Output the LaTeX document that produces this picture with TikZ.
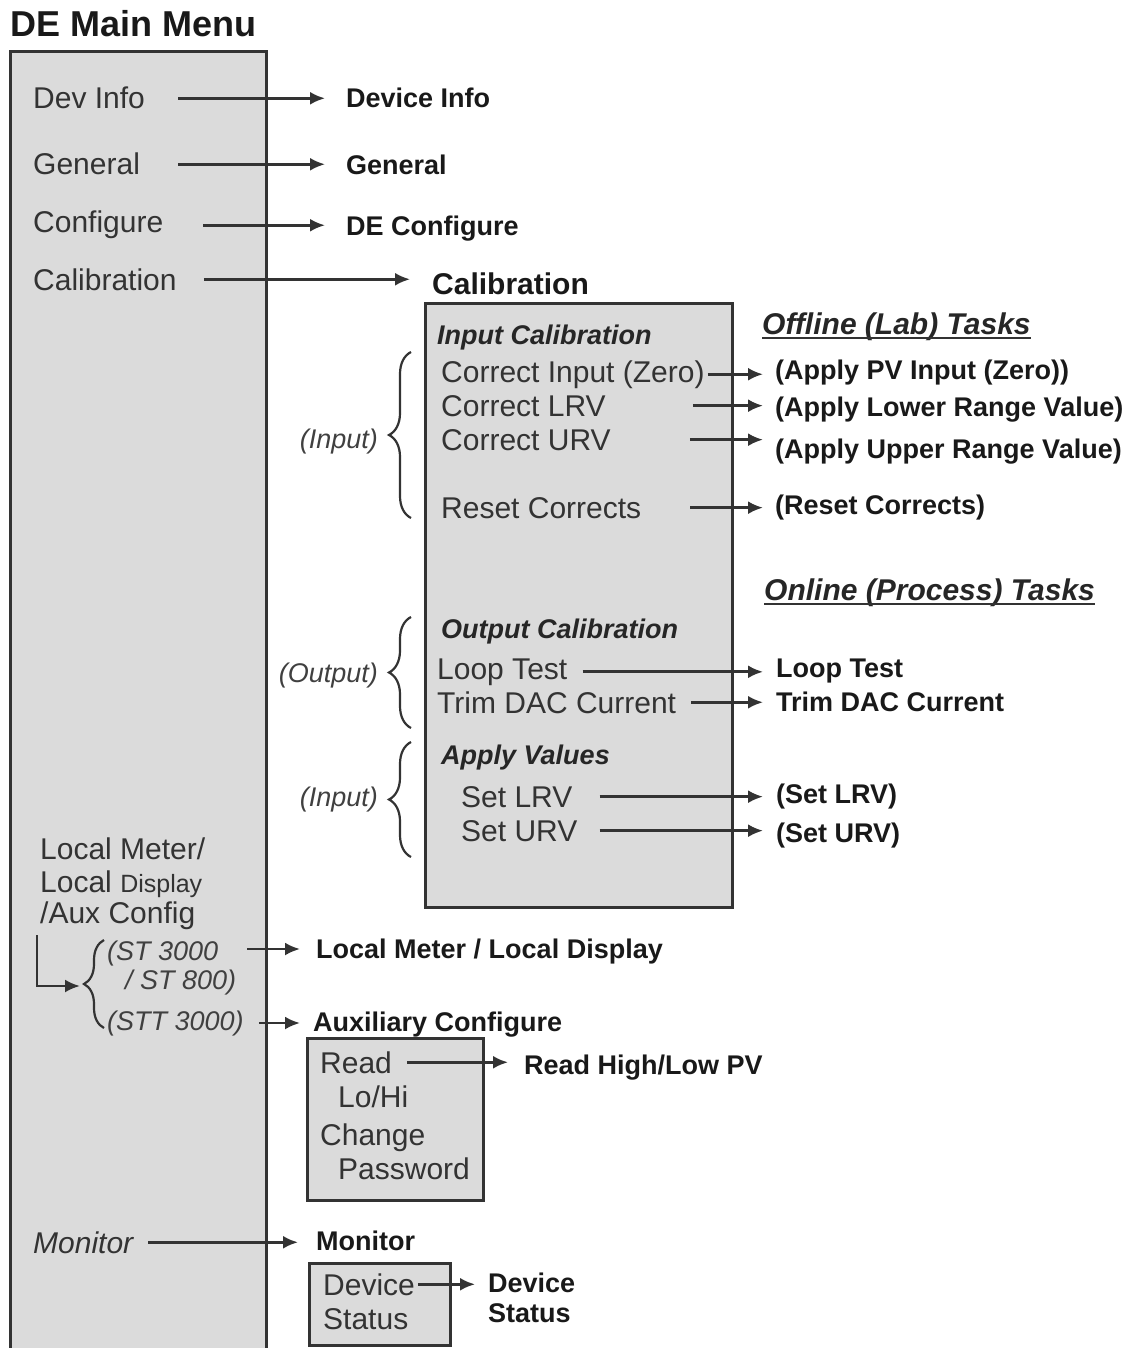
\documentclass[tikz,border=0pt]{standalone}
\usepackage{fontspec}
\setmainfont{Liberation Sans}
\usetikzlibrary{arrows.meta,decorations.pathreplacing}

\tikzset{
  menu/.style={inner sep=0pt, anchor=base west, text=black!80, font=\fontsize{30}{34}\selectfont},
  dest/.style={inner sep=0pt, anchor=base west, text=black!90, font=\bfseries\fontsize{27}{30}\selectfont},
  grp/.style={inner sep=0pt, anchor=base west, text=black!85, font=\bfseries\itshape\fontsize{27}{30}\selectfont},
  tasks/.style={inner sep=0pt, anchor=base west, text=black!85, font=\bfseries\itshape\fontsize{30}{34}\selectfont},
  hint/.style={inner sep=0pt, anchor=base east, text=black!75, font=\itshape\fontsize{27}{30}\selectfont},
  box/.style={draw=black!80, line width=3pt, fill=black!14},
  arr/.style={-{Latex[length=15pt,width=13pt]}, line width=2.6pt, draw=black!80},
  brc/.style={decorate, decoration={brace, amplitude=22pt}, line width=2.2pt, draw=black!80},
}

\begin{document}
\begin{tikzpicture}[x=1pt,y=-1pt]
 \useasboundingbox (0,0) rectangle (1134,1348);
 % main menu column
 \fill[black!14] (10,52) rectangle (266,1348);
 \draw[black!80,line width=3pt] (10,1348) -- (10,52) -- (266,52) -- (266,1348);
 \node[inner sep=0pt,anchor=base west,text=black!90,font=\bfseries\fontsize{36}{40}\selectfont] (title) at (10,37) {DE Main Menu};
 \node[menu] (devinfo) at (33,109) {Dev Info};
 \node[menu] (general) at (33,175) {General};
 \node[menu] (config) at (33,233) {Configure};
 \node[menu] (calib) at (33,290) {Calibration};
 \node[menu] (lmeter) at (40,859) {Local Meter/};
 \node[menu] (ldisp) at (40,892) {Local {\fontsize{25}{30}\selectfont Display}};
 \node[menu] (auxcfg) at (40,923) {/Aux Config};
 \node[menu,font=\itshape\fontsize{30}{34}\selectfont] (monitor) at (33,1253) {Monitor};
 % first level targets
 \node[dest] (devinfoR) at (346,108) {Device Info};
 \node[dest] (generalR) at (346,175) {General};
 \node[dest] (configR) at (346,236) {DE Configure};
 \node[dest,font=\bfseries\fontsize{30}{34}\selectfont] (calibR) at (432,294) {Calibration};
 \draw[arr,shorten <=33pt,shorten >=21pt] (devinfo.east) -- (devinfo.east -| devinfoR.west);
 \draw[arr,shorten <=38pt,shorten >=21pt] (general.east) -- (general.east -| generalR.west);
 \draw[arr,shorten <=40pt,shorten >=21pt] (config.east) -- (config.east -| configR.west);
 \draw[arr,shorten <=27pt,shorten >=22pt] (calib.east) -- (calib.east -| calibR.west);
 % calibration box
 \draw[box] (425,303) rectangle (732,907);
 \node[grp] (incal) at (437,344) {Input Calibration};
 \node[menu] (czero) at (441,382) {Correct Input (Zero)};
 \node[menu] (clrv) at (441,416) {Correct LRV};
 \node[menu] (curv) at (441,450) {Correct URV};
 \node[menu] (creset) at (441,518) {Reset Corrects};
 \node[grp] (outcal) at (441,638) {Output Calibration};
 \node[menu] (loop) at (437,679) {Loop Test};
 \node[menu] (trim) at (437,713) {Trim DAC Current};
 \node[grp] (apply) at (441,764) {Apply Values};
 \node[menu] (setlrv) at (461,807) {Set LRV};
 \node[menu] (seturv) at (461,841) {Set URV};
 % braces
 \draw[brc] (411,518) -- (411,352);
 \draw[brc] (411,728) -- (411,617);
 \draw[brc] (411,857) -- (411,742);
 \node[hint] (tin1) at (378,448) {(Input)};
 \node[hint] (tout) at (378,682) {(Output)};
 \node[hint] (tin2) at (378,806) {(Input)};
 % offline tasks
 \node[tasks] (offline) at (762,334) {Offline (Lab) Tasks};
 \draw[line width=1.6pt,black!80] ([yshift=-4pt]offline.base west) -- ([yshift=-4pt]offline.base east);
 \node[dest] (azero) at (775,379) {(Apply PV Input (Zero))};
 \node[dest] (alrv) at (775,416) {(Apply Lower Range Value)};
 \node[dest] (aurv) at (775,458) {(Apply Upper Range Value)};
 \node[dest] (areset) at (775,514) {(Reset Corrects)};
 \draw[arr,shorten <=3pt,shorten >=12pt] (czero.east) -- (czero.east -| azero.west);
 \draw[arr,shorten <=87pt,shorten >=12pt] (clrv.east) -- (clrv.east -| alrv.west);
 \draw[arr,shorten <=79pt,shorten >=12pt] (curv.east) -- (curv.east -| aurv.west);
 \draw[arr,shorten <=49pt,shorten >=12pt] (creset.east) -- (creset.east -| areset.west);
 % online tasks
 \node[tasks] (online) at (764,600) {Online (Process) Tasks};
 \draw[line width=1.6pt,black!80] ([yshift=-4pt]online.base west) -- ([yshift=-4pt]online.base east);
 \node[dest] (loopR) at (776,677) {Loop Test};
 \node[dest] (trimR) at (776,711) {Trim DAC Current};
 \node[dest] (setlrvR) at (776,803) {(Set LRV)};
 \node[dest] (seturvR) at (776,842) {(Set URV)};
 \draw[arr,shorten <=15pt,shorten >=13pt] (loop.east) -- (loop.east -| loopR.west);
 \draw[arr,shorten <=15pt,shorten >=13pt] (trim.east) -- (trim.east -| trimR.west);
 \draw[arr,shorten <=27pt,shorten >=13pt] (setlrv.east) -- (setlrv.east -| setlrvR.west);
 \draw[arr,shorten <=22pt,shorten >=13pt] (seturv.east) -- (seturv.east -| seturvR.west);
 % local meter / aux config branch
 \node[hint,anchor=base west] (st3000) at (107,960) {(ST 3000};
 \node[hint,anchor=base west] (st800) at (125,989) {/ ST 800)};
 \node[hint,anchor=base west] (stt3000) at (107,1030) {(STT 3000)};
 \draw[brc,decoration={brace,amplitude=20pt}] (104,1028) -- (104,940);
 \coordinate (brtip) at (80,986);
 \draw[arr] ([xshift=-3pt,yshift=-6pt]auxcfg.south west) |- (brtip);
 \node[dest] (lmeterR) at (316,958) {Local Meter / Local Display};
 \node[dest] (auxR) at (313,1031) {Auxiliary Configure};
 \draw[arr,shorten <=29pt,shorten >=16pt] ([yshift=4pt]st3000.east) -- ([yshift=4pt]st3000.east -| lmeterR.west);
 \draw[arr,shorten <=15pt,shorten >=13pt] (stt3000.east) -- (stt3000.east -| auxR.west);
 % aux config box
 \draw[box] (307,1038) rectangle (483,1200);
 \node[menu] (read) at (320,1073) {Read};
 \node[menu] (lohi) at (338,1107) {Lo/Hi};
 \node[menu] (change) at (320,1145) {Change};
 \node[menu] (passwd) at (338,1179) {Password};
 \node[dest] (readR) at (524,1074) {Read High/Low PV};
 \draw[arr,shorten <=15pt,shorten >=16pt] (read.east) -- (read.east -| readR.west);
 % monitor
 \node[dest] (monitorR) at (316,1250) {Monitor};
 \draw[arr,shorten <=15pt,shorten >=18pt] (monitor.east) -- (monitor.east -| monitorR.west);
 \draw[box] (309,1263) rectangle (450,1345);
 \node[menu] (devst) at (323,1295) {Device};
 \node[menu] (status) at (323,1329) {Status};
 \node[dest] (devstR) at (488,1292) {Device};
 \node[dest] (statusR) at (488,1322) {Status};
 \draw[arr,shorten <=3pt,shorten >=13pt] (devst.east) -- (devst.east -| devstR.west);
\end{tikzpicture}
\end{document}
